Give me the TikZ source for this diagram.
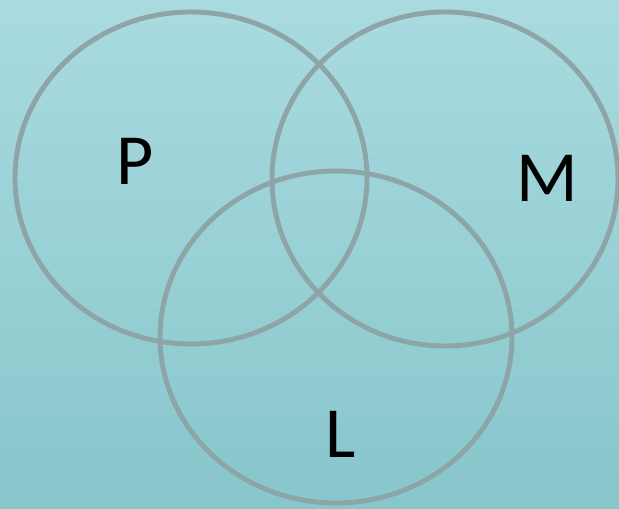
\documentclass[tikz,border=0pt]{standalone}
\usepackage{fontspec}
\setmainfont{Carlito}
\usepackage{tikz}

\definecolor{bgtop}{HTML}{A9DBE0}
\definecolor{bgbottom}{HTML}{87C6CB}
\definecolor{ringgray}{HTML}{8EA5A7}

\begin{document}
\begin{tikzpicture}[x=0.02cm, y=-0.02cm,
    every node/.style={font=\fontsize{41}{41}\selectfont, inner sep=0pt},
    ring/.style={draw=ringgray, line width=2.8pt}]
  \shade[top color=bgtop, bottom color=bgbottom] (0,0) rectangle (619,509);
  \useasboundingbox (0,0) rectangle (619,509);
  \draw[ring] (191,178) ellipse [x radius=176, y radius=166];
  \draw[ring] (445,179) ellipse [x radius=173, y radius=167];
  \draw[ring] (336,337) ellipse [x radius=176, y radius=166];
  \node (setP) at (135,161) {P};
  \node (setM) at (547,178) {M};
  \node (setL) at (341,434) {L};
\end{tikzpicture}
\end{document}
